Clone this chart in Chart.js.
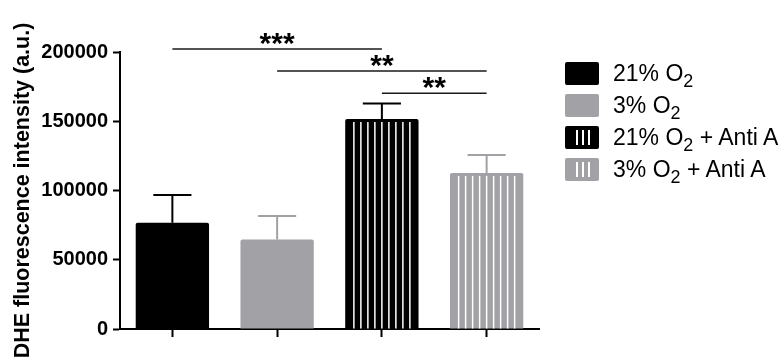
<!DOCTYPE html>
<html lang="en">
<head>
<meta charset="UTF-8">
<title>DHE fluorescence intensity</title>
<script src="https://cdn.jsdelivr.net/npm/chart.js@4.4.4/dist/chart.umd.min.js"></script>
<style>
    body { margin: 0; background: #fff; font-family: "Liberation Sans", Arial, sans-serif; }
    #wrap { position: relative; width: 784px; height: 364px; }
    #legend { position: absolute; left: 565px; top: 57px; }
    .row { display: flex; align-items: center; height: 32px; }
    .box { position: relative; width: 34px; height: 23px; border-radius: 2px; margin-right: 14px; }
    .box span { position: absolute; top: 4px; bottom: 4px; width: 1.5px; background: #fff; }
    .txt { font-size: 23px; color: #000; white-space: nowrap; }
    .txt sub { font-size: 0.78em; vertical-align: -0.32em; line-height: 0; }
</style>
</head>
<body>
<div id="wrap">
    <canvas id="dheChart" width="784" height="364"></canvas>
    <div id="legend"></div>
</div>
<script>
    // groupes et valeurs
    const groups = ['21% O2', '3% O2', '21% O2 + Anti A', '3% O2 + Anti A'];
    const meanValues = [76800, 64700, 151700, 112700];
    const semValues = [20000, 16900, 11200, 13000];
    const barColors = ['#000000', '#a2a2a6', '#000000', '#a2a2a6'];
    const striped = [false, false, true, true];
    const yTicks = [0, 50000, 100000, 150000, 200000];

    // comparaisons statistiques
    const compFrom = [0, 1, 2];
    const compTo = [2, 3, 3];
    const compStars = ['***', '**', '**'];
    const compLevel = [202200, 186300, 170300];

    const FONT = '"Liberation Sans", Arial, sans-serif';

    // rayures blanches verticales sur les barres "Anti A"
    const stripesPlugin = {
        id: 'stripes',
        afterDatasetsDraw(chart) {
            const ctx = chart.ctx;
            chart.getDatasetMeta(0).data.forEach((bar, i) => {
                if (!striped[i]) return;
                const w = bar.width;
                const left = bar.x - w / 2;
                const n = Math.floor((w - 16) / 7) + 1;
                const start = left + (w - (n - 1) * 7) / 2;
                ctx.save();
                ctx.strokeStyle = '#ffffff';
                ctx.lineWidth = 1.5;
                for (let k = 0; k < n; k++) {
                    ctx.beginPath();
                    ctx.moveTo(start + k * 7, bar.y + 3);
                    ctx.lineTo(start + k * 7, bar.base);
                    ctx.stroke();
                }
                ctx.restore();
            });
        }
    };

    // barres d'erreur (SEM, vers le haut seulement)
    const errorBarsPlugin = {
        id: 'errorBars',
        afterDatasetsDraw(chart) {
            const ctx = chart.ctx;
            const y = chart.scales.y;
            chart.getDatasetMeta(0).data.forEach((bar, i) => {
                const top = y.getPixelForValue(meanValues[i] + semValues[i]);
                const cap = bar.width * 0.26;
                ctx.save();
                ctx.strokeStyle = barColors[i];
                ctx.lineWidth = 2;
                ctx.beginPath();
                ctx.moveTo(bar.x, bar.y);
                ctx.lineTo(bar.x, top);
                ctx.moveTo(bar.x - cap, top);
                ctx.lineTo(bar.x + cap, top);
                ctx.stroke();
                ctx.restore();
            });
        }
    };

    // lignes de significativité
    const significancePlugin = {
        id: 'significance',
        afterDraw(chart) {
            const ctx = chart.ctx;
            const x = chart.scales.x;
            const y = chart.scales.y;
            ctx.save();
            ctx.font = 'bold 30px ' + FONT;
            ctx.textAlign = 'center';
            ctx.fillStyle = '#000';
            ctx.strokeStyle = '#1a1a1a';
            ctx.lineWidth = 1.5;
            for (let i = 0; i < compFrom.length; i++) {
                const x1 = x.getPixelForValue(compFrom[i]);
                const x2 = x.getPixelForValue(compTo[i]);
                const ly = y.getPixelForValue(compLevel[i]);
                ctx.beginPath();
                ctx.moveTo(x1, ly);
                ctx.lineTo(x2, ly);
                ctx.stroke();
                const m = ctx.measureText(compStars[i]);
                ctx.fillText(compStars[i], (x1 + x2) / 2, ly - 4 - m.actualBoundingBoxDescent);
            }
            ctx.restore();
        }
    };

    function buildLegend() {
        const legend = document.getElementById('legend');
        groups.forEach((g, i) => {
            const row = document.createElement('div');
            row.className = 'row';
            const box = document.createElement('div');
            box.className = 'box';
            box.style.background = barColors[i];
            if (striped[i]) {
                [11, 17, 23].forEach(px => {
                    const s = document.createElement('span');
                    s.style.left = px + 'px';
                    box.appendChild(s);
                });
            }
            const txt = document.createElement('div');
            txt.className = 'txt';
            txt.innerHTML = g.replace('O2', 'O<sub>2</sub>');
            row.appendChild(box);
            row.appendChild(txt);
            legend.appendChild(row);
        });
    }

    function initChart() {
        const ctx = document.getElementById('dheChart').getContext('2d');
        new Chart(ctx, {
            type: 'bar',
            data: {
                labels: groups,
                datasets: [{
                    data: meanValues,
                    backgroundColor: barColors,
                    borderRadius: { topLeft: 2, topRight: 2 },
                    borderSkipped: 'start',
                    categoryPercentage: 1,
                    barPercentage: 0.7
                }]
            },
            options: {
                responsive: false,
                animation: false,
                layout: { padding: { left: 10, top: 52, right: 245, bottom: 27 } },
                plugins: { legend: { display: false }, tooltip: { enabled: false } },
                scales: {
                    x: {
                        ticks: { display: false },
                        grid: { offset: false, drawOnChartArea: false, tickLength: 8, tickWidth: 2, color: '#000' },
                        border: { color: '#000', width: 2 }
                    },
                    y: {
                        min: 0,
                        max: 200000,
                        afterBuildTicks: s => { s.ticks = yTicks.map(v => ({ value: v })); },
                        afterFit: s => { s.width = 110; },
                        ticks: {
                            color: '#000',
                            padding: 5,
                            font: { family: FONT, size: 20, weight: 'bold' },
                            callback: v => String(v)
                        },
                        grid: { drawOnChartArea: false, tickLength: 7, tickWidth: 2, color: '#000' },
                        border: { color: '#000', width: 2 },
                        title: {
                            display: true,
                            text: 'DHE fluorescence intensity (a.u.)',
                            color: '#000',
                            font: { family: FONT, size: 21.5, weight: 'bold' },
                            padding: { top: 0, bottom: 2 }
                        }
                    }
                }
            },
            plugins: [stripesPlugin, errorBarsPlugin, significancePlugin]
        });
        buildLegend();
    }

    window.onload = initChart;
</script>
</body>
</html>
